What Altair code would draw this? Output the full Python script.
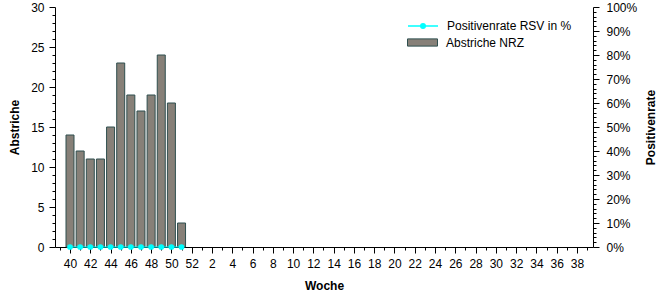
import altair as alt
import pandas as pd
import json

# Season weeks (x-axis categories)
weeks = list(range(40, 53)) + list(range(1, 40))
# Data weeks with values
data_weeks = [40, 41, 42, 43, 44, 45, 46, 47, 48, 49, 50, 51]
abstriche = [14, 12, 11, 11, 15, 23, 19, 17, 19, 24, 18, 3]
positivenrate = [0, 0, 0, 0, 0, 0, 0, 0, 0, 0, 0, 0]

df = pd.DataFrame({
    "idx": [weeks.index(w) for w in data_weeks],
    "woche": data_weeks,
    "abstriche": abstriche,
    "rate": positivenrate,
    "s_bar": "Abstriche NRZ",
    "s_line": "Positivenrate RSV in %",
})

FONT = "Liberation Sans"
week_labels_js = json.dumps([str(w) for w in weeks])


def x_enc():
    return alt.X(
        "idx:Q",
        scale=alt.Scale(domain=[-1.48, 51.58], nice=False, zero=False, padding=0),
        axis=alt.Axis(
            title="Woche",
            values=list(range(-1, 52)),
            labelExpr=f"(datum.value >= 0 && datum.value % 2 == 0) ? {week_labels_js}[datum.value] : ''",
            tickSize={"condition": {"test": "datum.value % 2 == 0", "value": 6}, "value": 3},
            labelPadding=5,
            labelFlush=False,
            labelOverlap=False,
            grid=False,
            titleX=269,
            titleY=38,
            titleBaseline="middle",
        ),
    )


bars = alt.Chart(df).mark_bar(size=8, stroke="#2f4f4f", strokeWidth=1).encode(
    x=x_enc(),
    y=alt.Y(
        "abstriche:Q",
        scale=alt.Scale(domain=[0, 30], nice=False),
        axis=alt.Axis(
            title="Abstriche",
            orient="left",
            values=list(range(0, 31)),
            labelExpr="datum.value % 5 == 0 ? datum.label : ''",
            tickSize={"condition": {"test": "datum.value % 5 == 0", "value": 6}, "value": 3},
            labelPadding=5,
            grid=False,
            titleX=-41,
            titleY=120,
            titleAngle=270,
            titleBaseline="middle",
            titleAlign="center",
        ),
    ),
    fill=alt.Fill(
        "s_bar:N",
        scale=alt.Scale(domain=["Abstriche NRZ"], range=["#878078"]),
        legend=alt.Legend(
            title=None,
            orient="none",
            legendX=352,
            legendY=20,
            symbolType="M-1,-0.24H1V0.24H-1Z",
            symbolSize=900,
            symbolStrokeColor="#2f4f4f",
            symbolStrokeWidth=1,
            symbolOffset=0,
            padding=0,
            labelOffset=8,
        ),
    ),
)

line = alt.Chart(df).mark_line(
    strokeWidth=1,
    point=alt.OverlayMarkDef(filled=True, fill="#00ffff", size=14),
).encode(
    x=x_enc(),
    y=alt.Y(
        "rate:Q",
        scale=alt.Scale(domain=[0, 100], nice=False),
        axis=alt.Axis(
            title="Positivenrate",
            orient="right",
            values=list(range(0, 101, 2)),
            labelExpr="datum.value % 10 == 0 ? datum.value + '%' : ''",
            tickSize={"condition": {"test": "datum.value % 10 == 0", "value": 6}, "value": 3},
            labelPadding=7,
            grid=False,
            titleX=57,
            titleY=120,
            titleAngle=270,
            titleBaseline="middle",
            titleAlign="center",
        ),
    ),
    stroke=alt.Stroke(
        "s_line:N",
        scale=alt.Scale(domain=["Positivenrate RSV in %"], range=["#00ffff"]),
        legend=alt.Legend(
            title=None,
            orient="none",
            legendX=352,
            legendY=3,
            symbolType="M-1,0H1M-0.15,0A0.15,0.15 0 1,0 0.15,0A0.15,0.15 0 1,0 -0.15,0",
            symbolSize=900,
            symbolStrokeColor="#00ffff",
            symbolFillColor="#00ffff",
            symbolStrokeWidth=1.5,
            symbolOffset=0,
            padding=0,
            labelOffset=8,
        ),
    ),
)

chart = (
    alt.layer(bars, line)
    .resolve_scale(y="independent")
    .properties(
        width=538,
        height=240,
        autosize=alt.AutoSizeParams(type="none"),
        padding={"left": 55, "top": 7, "right": 73, "bottom": 53},
        background="white",
    )
    .configure_view(stroke=None)
    .configure_axis(
        labelFont=FONT,
        labelFontSize=12,
        labelColor="#000000",
        titleFont=FONT,
        titleFontSize=12,
        titleFontWeight="bold",
        titleColor="#000000",
        domainColor="#000000",
        tickColor="#000000",
    )
    .configure_legend(
        labelFont=FONT,
        labelFontSize=12,
        labelColor="#000000",
    )
)

chart.save("out.html", embed_options={"renderer": "svg", "actions": False})
